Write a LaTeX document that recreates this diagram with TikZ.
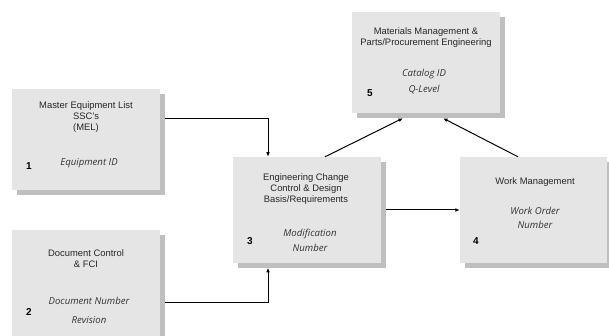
\documentclass[tikz,border=0pt]{standalone}
\usepackage{fontspec}
\setmainfont{Liberation Sans}
\newfontfamily\fieldfont{Open Sans}
\usetikzlibrary{arrows.meta,shadows}

\begin{document}
\begin{tikzpicture}[
    x=1pt,y=-1pt,font=\fontsize{9.4}{11}\selectfont,
    panel/.style={fill=black!10,draw=none,inner sep=0pt,
        drop shadow={shadow xshift=5pt,shadow yshift=-5pt,fill=black!25,opacity=1}},
    title/.style={align=center,text=black!85,inner sep=0pt},
    field/.style={align=center,text=black!80,inner sep=0pt,
        font=\fieldfont\itshape\fontsize{9.6}{14.5}\selectfont},
    number/.style={font=\bfseries\fontsize{10}{12}\selectfont,inner sep=0pt},
    flow/.style={line width=1pt,-{Latex[length=1.6mm,width=1.3mm]}}
]
    \useasboundingbox[fill=white] (0,0) rectangle (609,336);

    % boxes, left column first
    \node[panel,minimum width=148pt,minimum height=101pt] (mel) at (86,139.5) {};
    \node[panel,minimum width=148pt,minimum height=112pt] (doc) at (86,286) {};
    \node[panel,minimum width=148pt,minimum height=106pt] (ecc) at (307,210) {};
    \node[panel,minimum width=147pt,minimum height=106pt] (wm) at (533.5,210) {};
    \node[panel,minimum width=148pt,minimum height=101pt] (mat) at (426,62.5) {};

    % 1: master equipment list
    \node[title] (mel title) at (86,117) {Master Equipment List\\SSC's\\(MEL)};
    \node[field] (mel field) at (89,163) {Equipment ID};
    \node[number] (mel no) at (29,166) {1};

    % 2: document control
    \node[title] (doc title) at (86,258.5) {Document Control\\\& FCI};
    \node[field] (doc field) at (89,310.5) {Document Number\\[4pt]Revision};
    \node[number] (doc no) at (29,312) {2};

    % 3: engineering change control
    \node[title] (ecc title) at (306,189) {Engineering Change\\Control \& Design\\Basis/Requirements};
    \node[field] (ecc field) at (310,240.5) {Modification\\Number};
    \node[number] (ecc no) at (250,241) {3};

    % 4: work management
    \node[title] (wm title) at (535,182) {Work Management};
    \node[field] (wm field) at (535,218) {Work Order\\Number};
    \node[number] (wm no) at (476,241) {4};

    % 5: materials management
    \node[title] (mat title) at (426,37.5) {Materials Management \&\\Parts/Procurement Engineering};
    \node[field] (mat field) at (424,81.5) {Catalog ID\\[2pt]Q-Level};
    \node[number] (mat no) at (370,93) {5};

    % connectors
    \draw[flow] ([xshift=5pt,yshift=20.5pt]mel.east) -| ([xshift=-39pt]ecc.north);
    \draw[flow] ([xshift=5pt,yshift=-16pt]doc.east) -| ([xshift=-39pt,yshift=-4.5pt]ecc.south);
    \draw[flow] ([xshift=5pt]ecc.east) -- (wm.west);
    \draw[flow] ([xshift=18pt]ecc.north) -- ([xshift=-23pt,yshift=-5pt]mat.south);
    \draw[flow] ([xshift=-15.5pt]wm.north) -- ([xshift=17pt,yshift=-5pt]mat.south);
\end{tikzpicture}
\end{document}
